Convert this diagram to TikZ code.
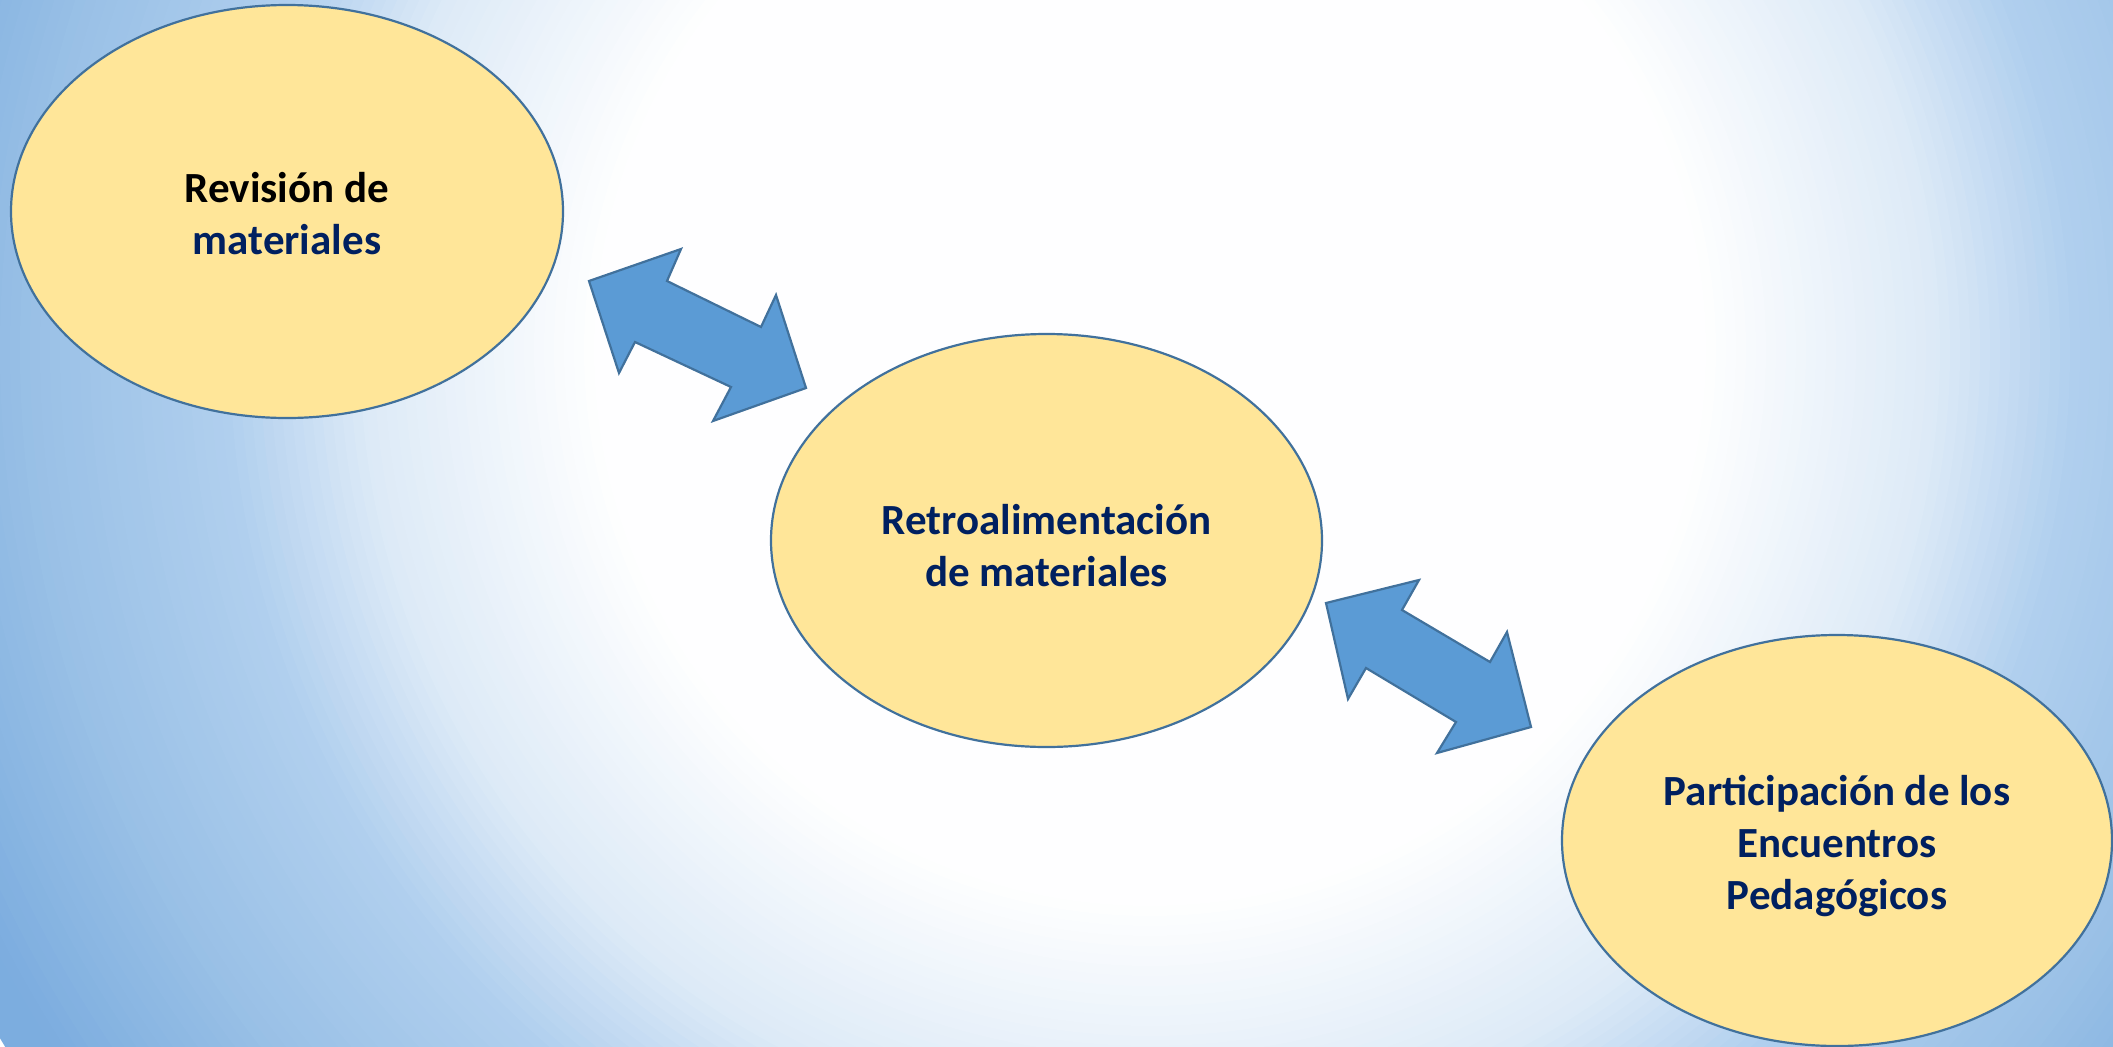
\documentclass[tikz,border=0pt]{standalone}
\usepackage{fontspec}
\setmainfont{Carlito}
\usetikzlibrary{shapes.geometric}
\definecolor{bgA}{HTML}{DDEAF7}
\definecolor{bgB}{HTML}{B0CFEE}
\definecolor{bgC}{HTML}{99C0E6}
\definecolor{bgD}{HTML}{7CADDF}
\definecolor{ellfill}{HTML}{FFE699}
\definecolor{ellline}{HTML}{41719C}
\definecolor{arrfill}{HTML}{5B9BD5}
\definecolor{arrline}{HTML}{41719C}
\definecolor{navy}{HTML}{002060}
\tikzset{
  stage/.style={ellipse, draw=ellline, line width=2.2pt, fill=ellfill, inner sep=0pt},
  lbl/.style={align=center, text=navy, font=\fontsize{43}{52}\selectfont\bfseries, inner sep=0pt},
  blockarrow/.style={fill=arrfill, draw=arrline, line width=2.2pt, line join=miter}
}
\begin{document}
\begin{tikzpicture}[x=1pt, y=-1pt]
\useasboundingbox (0,0) rectangle (2113,1047);
\coordinate (bgc) at (1150,350);
\begin{scope}
  \clip (0,0) rectangle (2113,1047);
  \fill[white] (0,0) rectangle (2113,1047);
  \foreach \r in {1340,1330,...,1125} {
    \pgfmathtruncatemacro\p{min(100,(\r-1123)/1.8)}
    \fill[bgD!\p!bgC] (bgc) circle (\r);
  }
  \foreach \r in {1120,1110,...,932} {
    \pgfmathtruncatemacro\p{(\r-930)/1.93}
    \fill[bgC!\p!bgB] (bgc) circle (\r);
  }
  \foreach \r in {930,920,...,788} {
    \pgfmathtruncatemacro\p{(\r-786)/1.44}
    \fill[bgB!\p!bgA] (bgc) circle (\r);
  }
  \foreach \r in {786,776,...,552} {
    \pgfmathtruncatemacro\p{(\r-550)/2.36}
    \fill[bgA!\p!white] (bgc) circle (\r);
  }
\end{scope}
% ellipses
\node[stage, minimum width=552pt, minimum height=413pt] (e1) at (287,211.5) {};
\node[stage, minimum width=551pt, minimum height=413pt] (e2) at (1046.5,540.5) {};
\node[stage, minimum width=550pt, minimum height=411pt] (e3) at (1837,840.5) {};
% labels
\node[lbl] (t1) at ([yshift=-2pt]e1.center) {\textcolor{black}{Revisión de}\\materiales};
\node[lbl] (t2) at ([yshift=-5pt]e2.center) {Retroalimentación\\de materiales};
\node[lbl] (t3) at ([yshift=-6pt]e3.center) {Participación de los\\Encuentros\\Pedagógicos};
% double block arrows
\draw[blockarrow] (589,281) -- (681,249) -- (667,281) -- (761,327) -- (776,295) -- (806,388) -- (713,421) -- (731,387) -- (635,342) -- (619,373) -- cycle;
\draw[blockarrow] (1326,603) -- (1419,580) -- (1402,610) -- (1490,662) -- (1507,632) -- (1531,727) -- (1437,753) -- (1456,722) -- (1366,668) -- (1348,699) -- cycle;
\end{tikzpicture}
\end{document}
